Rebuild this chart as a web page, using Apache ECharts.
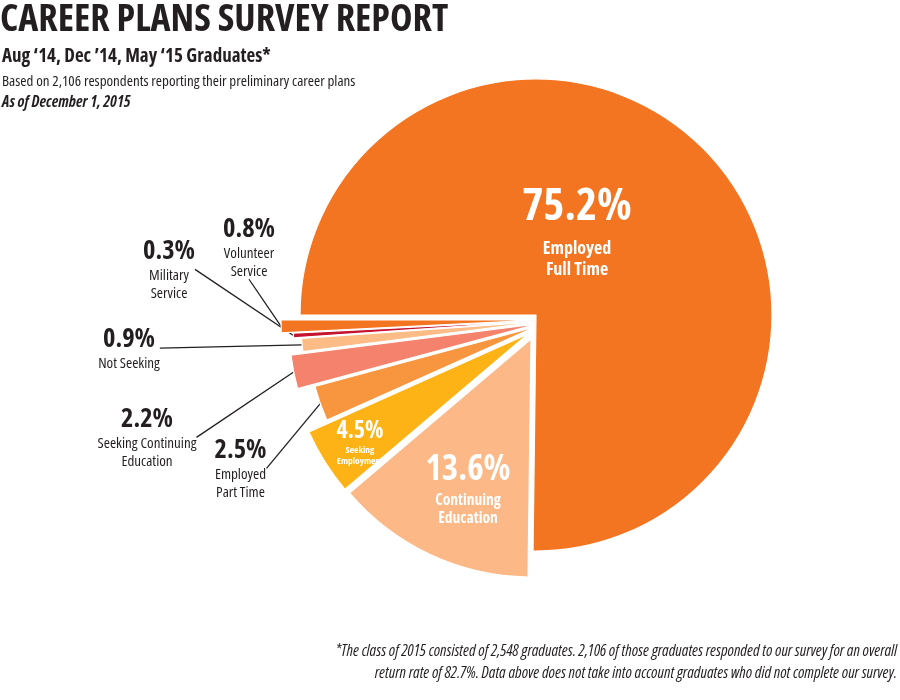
<!DOCTYPE html>
<html><head><meta charset="utf-8">
<script src="https://cdn.jsdelivr.net/npm/echarts@6/dist/echarts.min.js"></script>
<style>html,body{margin:0;padding:0;background:#fff}#c{width:900px;height:700px}</style>
</head><body><div id="c"></div>
<script>
// ---- data ----
const categories = ['Employed\nFull Time', 'Continuing\nEducation', 'Seeking\nEmployment', 'Employed\nPart Time',
  'Seeking Continuing\nEducation', 'Not Seeking', 'Military\nService', 'Volunteer\nService'];
const values = [75.2, 13.6, 4.5, 2.5, 2.2, 0.9, 0.3, 0.8];

// ---- styles / layout ----
const colors = ['#F47521', '#FCB886', '#FDB316', '#F8953F', '#F4826C', '#FDBB86', '#C4122F', '#F47521'];
const sliceLayout = [[536,315,236],[531,339,238],[528,334,240],[535,327,228],[537,324,248],[537,322,236],[537,321,244],[537,320,256]];
const labelAnchor = [[577,177],[468,449],[360,417],[240.5,435],[147,404],[129,324],[169,236],[249,214]];
const FONT = '"Open Sans"';
const B = 'bold condensed', R = 'normal condensed';
const INK = '#231f20';
const richStyles = [
  {p:{fontSize:45,fontWeight:B,color:'#fff',lineHeight:61}, n:{fontSize:18,fontWeight:B,color:'#fff',lineHeight:21}},
  {p:{fontSize:35,fontWeight:B,color:'#fff',lineHeight:43}, n:{fontSize:15.5,fontWeight:B,color:'#fff',lineHeight:18}},
  {p:{fontSize:24,fontWeight:B,color:'#fff',lineHeight:28}, n:{fontSize:9.5,fontWeight:B,color:'#fff',lineHeight:11}},
];
const outRich = {p:{fontSize:26.5,fontWeight:B,color:INK,lineHeight:30}, n:{fontSize:15,fontWeight:R,color:INK,lineHeight:18.5}};
function rich(i){
  const r = richStyles[i] || outRich;
  return {p:Object.assign({align:'center',fontFamily:FONT}, r.p), n:Object.assign({align:'center',fontFamily:FONT}, r.n)};
}

const series = values.map((_, i) => {
  const inside = i < 3;
  return {
    type:'pie', startAngle:180, clockwise:true, silent:true, animation:false,
    avoidLabelOverlap:false,
    center:[sliceLayout[i][0], sliceLayout[i][1]], radius:[0, sliceLayout[i][2]],
    z: inside ? 20 + i : 2 + i,
    data: values.map((v, j) => ({
      name: categories[j], value: v,
      itemStyle: j === i ? {color: colors[j], borderColor:'#fff', borderWidth:1.2} : {color:'rgba(0,0,0,0)', borderWidth:0},
      label: {show: j === i, position:'outside', formatter: p => `{p|${p.value}%}\n{n|${p.name}}`, rich: rich(j)},
      labelLine: {show: j === i && !inside, lineStyle:{color:INK, width:1.3}, length:10, length2:0}
    })),
    labelLayout: params => params.dataIndex === i
      ? {x: labelAnchor[i][0], y: labelAnchor[i][1], align:'center', verticalAlign:'top'} : {}
  };
});

// header / footnote text
const texts = [
  {t:'CAREER PLANS SURVEY REPORT', x:0, y:20, font:'bold condensed 38px "Open Sans"', align:'left'},
  {t:'Aug ‘14, Dec ’14, May ‘15 Graduates*', x:2, y:57, font:'bold condensed 19px "Open Sans"', align:'left'},
  {t:'Based on 2,106 respondents reporting their preliminary career plans', x:2, y:82, font:'condensed 15px "Open Sans"', align:'left'},
  {t:'As of December 1, 2015', x:2, y:103, font:'italic bold condensed 15.7px "Open Sans"', align:'left'},
  {t:'*The class of 2015 consisted of 2,548 graduates. 2,106 of those graduates responded to our survey for an overall', x:897, y:651, font:'italic condensed 15.9px "Open Sans"', align:'right'},
  {t:'return rate of 82.7%. Data above does not take into account graduates who did not complete our survey.', x:897, y:673, font:'italic condensed 15.9px "Open Sans"', align:'right'}
];
const graphic = texts.map(o => ({type:'text', x:o.x, y:o.y, silent:true,
  style:{text:o.t, font:o.font, fill:INK, textAlign:o.align, textVerticalAlign:'middle'}}));

const option = {backgroundColor:'#fff', graphic, series};
echarts.init(document.getElementById('c')).setOption(option);
</script>
</body></html>
